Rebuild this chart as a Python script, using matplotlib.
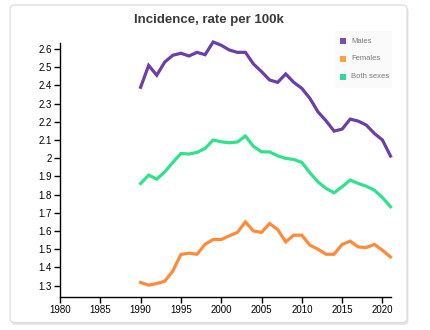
import matplotlib
matplotlib.use("Agg")
import matplotlib.pyplot as plt
from matplotlib.patches import FancyBboxPatch

years = list(range(1990, 2022))

males = [2.39, 2.51, 2.456, 2.529, 2.566, 2.577, 2.562, 2.582, 2.569, 2.639,
         2.621, 2.595, 2.582, 2.582, 2.518, 2.476, 2.43, 2.417, 2.463, 2.417,
         2.384, 2.329, 2.255, 2.206, 2.149, 2.16, 2.215, 2.204, 2.182, 2.136,
         2.1, 2.012]
females = [1.317, 1.302, 1.311, 1.324, 1.38, 1.471, 1.478, 1.472, 1.527, 1.553,
           1.553, 1.573, 1.592, 1.65, 1.6, 1.592, 1.641, 1.608, 1.54, 1.577,
           1.577, 1.522, 1.5, 1.472, 1.472, 1.526, 1.544, 1.512, 1.509, 1.526,
           1.494, 1.457]
both = [1.861, 1.907, 1.885, 1.925, 1.977, 2.026, 2.023, 2.032, 2.054, 2.1,
        2.09, 2.085, 2.089, 2.122, 2.065, 2.035, 2.035, 2.013, 1.999, 1.993,
        1.977, 1.92, 1.87, 1.834, 1.81, 1.843, 1.88, 1.861, 1.846, 1.824,
        1.784, 1.733]

series_names = ["Males", "Females", "Both sexes"]
line_colors = ["#6a3fa6", "#ff8a3a", "#2ee38c"]
legend_colors = ["#7a4cb6", "#ffa042", "#30d89a"]

x_ticks = [1980, 1985, 1990, 1995, 2000, 2005, 2010, 2015, 2020]
y_ticks = [1.3, 1.4, 1.5, 1.6, 1.7, 1.8, 1.9, 2.0, 2.1, 2.2, 2.3, 2.4, 2.5, 2.6]
y_labels = ["1.3", "1.4", "1.5", "1.6", "1.7", "1.8", "1.9", "2", "2.1", "2.2",
            "2.3", "2.4", "2.5", "2.6"]

plt.rcParams['font.family'] = ['Liberation Sans', 'DejaVu Sans']

W, H = 431, 330
fig = plt.figure(figsize=(W / 100, H / 100), dpi=100)
fig.patch.set_facecolor("white")

# card background with soft shadow, kept behind the axes
shadow = FancyBboxPatch((11.5 / W, 1 - 325 / H), 397 / W, 318 / H,
                        boxstyle="round,pad=0,rounding_size=0.012",
                        transform=fig.transFigure, facecolor="#e6e6e6",
                        edgecolor="none", zorder=-3)
card = FancyBboxPatch((10 / W, 1 - 322.5 / H), 397 / W, 317.5 / H,
                      boxstyle="round,pad=0,rounding_size=0.012",
                      transform=fig.transFigure, facecolor="white",
                      edgecolor="#d9d9d9", linewidth=0.8, zorder=-2)
fig.patches.extend([shadow, card])

fig.text(209 / W, 1 - 20 / H, "Incidence, rate per 100k", ha="center",
         va="center", fontsize=9.5, fontweight="bold", color="#3a3a3a")

ax = fig.add_axes([60 / W, 1 - 297 / H, 330.5 / W, 254.3 / H])
ax.set_facecolor("none")
for vals, c in zip([males, females, both], line_colors):
    ax.plot(years, vals, color=c, lw=2.3, solid_joinstyle="miter",
            clip_on=False, zorder=3)

ax.set_xlim(1980, 2021)
ax.set_ylim(1.237, 2.635)
ax.set_xticks(x_ticks)
ax.set_yticks(y_ticks)
ax.set_yticklabels(y_labels)
ax.spines["top"].set_visible(False)
ax.spines["right"].set_visible(False)
ax.spines["left"].set_linewidth(1.0)
ax.spines["bottom"].set_linewidth(1.0)
ax.tick_params(axis="both", direction="out", length=4, width=1,
               labelsize=7, colors="black", pad=2)

# legend box
leg_bg = FancyBboxPatch((335 / W, 1 - 88 / H), 57 / W, 57 / H,
                        boxstyle="round,pad=0,rounding_size=0.005",
                        transform=fig.transFigure, facecolor="#fafafa",
                        edgecolor="none", zorder=2)
fig.patches.append(leg_bg)
leg_y = [41.3, 59, 76.7]
for name, c, yy in zip(series_names, legend_colors, leg_y):
    fig.patches.append(plt.Rectangle((339.5 / W, 1 - (yy + 3) / H), 6 / W, 6 / H,
                                     transform=fig.transFigure, facecolor=c,
                                     edgecolor="none", zorder=3))
    fig.text(351 / W, 1 - yy / H, name, ha="left", va="center",
             fontsize=5.5, color="#7a7a7a", zorder=4)

fig.savefig("out.png", dpi=100, facecolor="white")
